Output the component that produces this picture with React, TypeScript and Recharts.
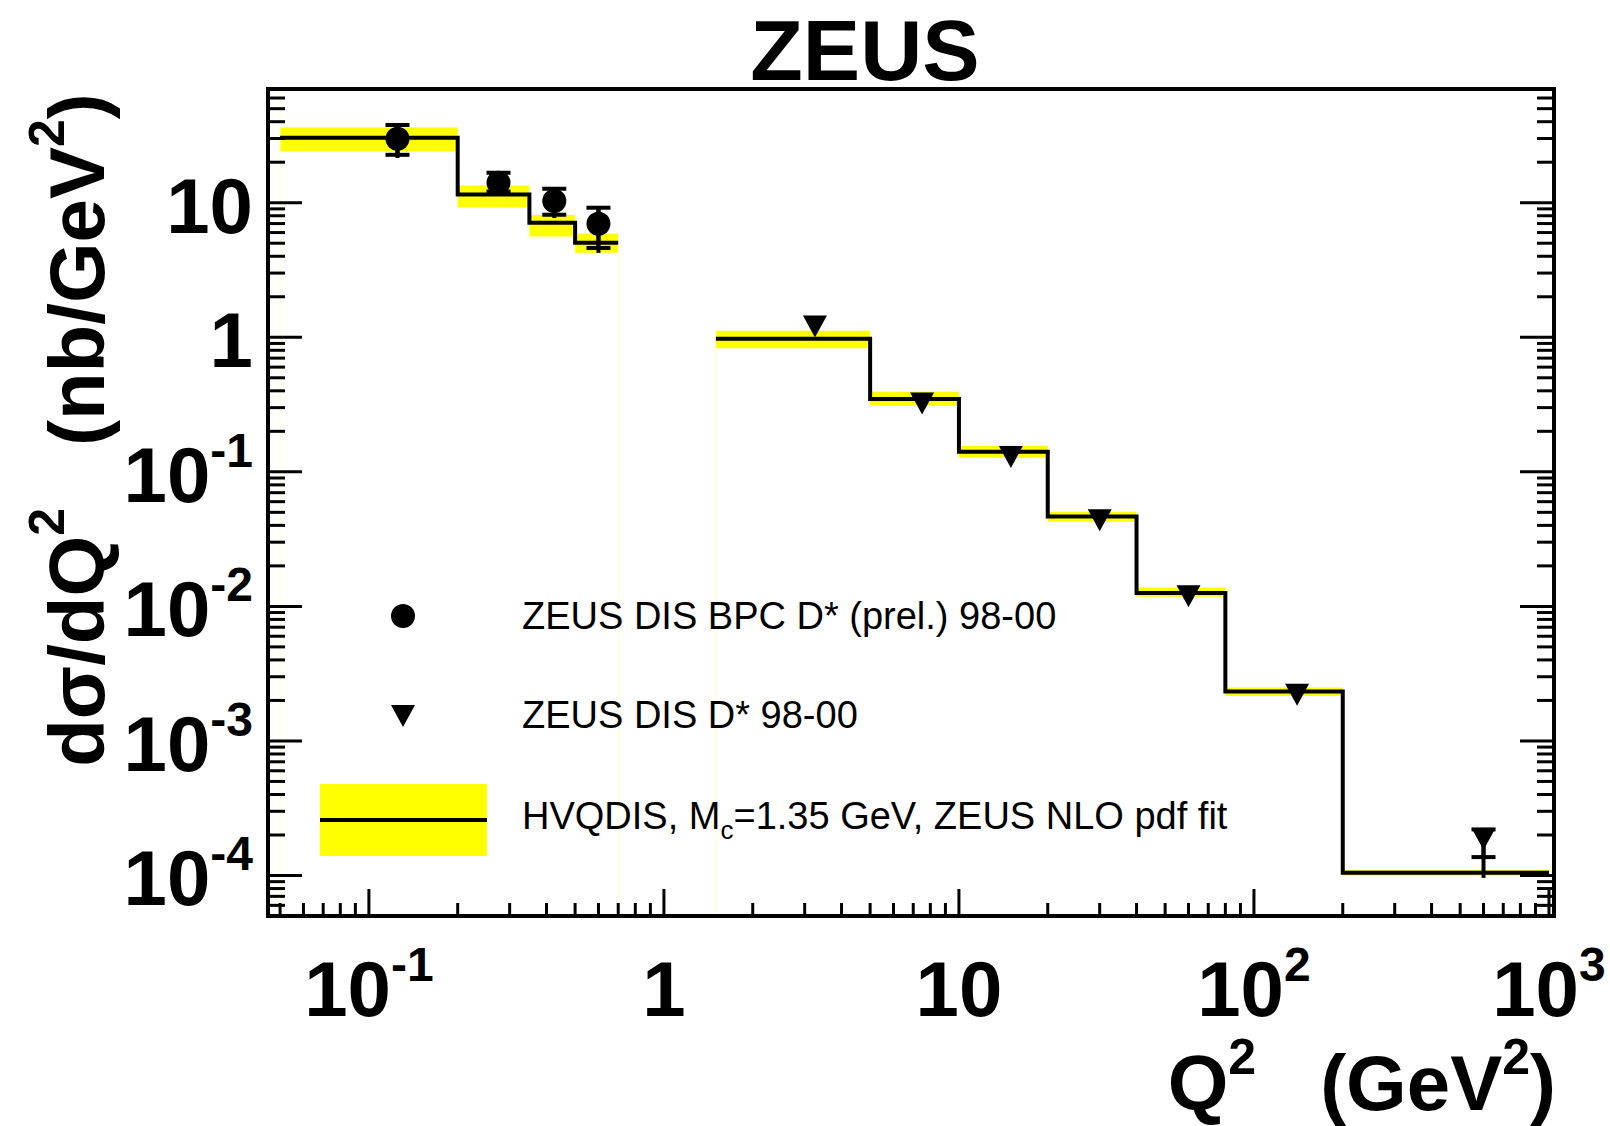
import React from 'react'
import {
  ComposedChart,
  XAxis,
  YAxis,
  Line,
  Scatter,
  ErrorBar,
  ReferenceArea,
  ReferenceLine,
  Legend,
} from 'recharts'

const W = 1610
const H = 1126
const FONT = '"Liberation Sans", Arial, Helvetica, sans-serif'

// frame range (log axes)
const X_DOMAIN = [0.0455, 1040]
const Y_DOMAIN = [5e-5, 70]

const X_MAJOR = [0.1, 1, 10, 100, 1000]
const X_LABELS = [['10', '-1'], ['1', ''], ['10', ''], ['10', '2'], ['10', '3']]
const Y_MAJOR = [1e-4, 1e-3, 1e-2, 0.1, 1, 10]
const Y_LABELS = [['10', '-4'], ['10', '-3'], ['10', '-2'], ['10', '-1'], ['1', ''], ['10', '']]
const DECADES = [1e-5, 1e-4, 1e-3, 1e-2, 0.1, 1, 10, 100, 1000]

// HVQDIS prediction, low-Q2 (BPC) bins
const BPC_EDGES = [0.05, 0.2, 0.35, 0.5, 0.7]
const BPC_THEORY = [30.4, 11.5, 7.1, 5.04]
const BPC_BAND_LO = [24.0, 9.2, 5.6, 4.25]
const BPC_BAND_HI = [36.2, 13.4, 8.1, 5.9]

// HVQDIS prediction, DIS bins
const DIS_EDGES = [1.5, 5, 10, 20, 40, 80, 200, 1000]
const DIS_THEORY = [0.975, 0.348, 0.141, 0.0465, 0.0126, 0.00233, 0.000105]
const DIS_BAND_LO = [0.83, 0.31, 0.127, 0.0425, 0.0118, 0.00216, 0.0001]
const DIS_BAND_HI = [1.12, 0.394, 0.156, 0.0505, 0.0138, 0.0025, 0.00011]

// ZEUS DIS BPC D* (prel.) 98-00
const BPC_Q2 = [0.125, 0.275, 0.425, 0.6]
const BPC_XSEC = [29.9, 14.1, 10.3, 6.98]
const BPC_STAT_LO = [22.7, 12.1, 8.14, 4.61]
const BPC_STAT_HI = [37.8, 16.7, 12.7, 9.18]
const BPC_TOT_LO = [21.5, 11.8, 7.7, 4.24]
const BPC_TOT_HI = [37.8, 16.7, 12.7, 9.18]

// ZEUS DIS D* 98-00
const DIS_Q2 = [3.25, 7.5, 15, 30, 60, 140, 600]
const DIS_XSEC = [1.2, 0.322, 0.129, 0.0436, 0.0119, 0.0022, 0.000187]
const DIS_TOT_LO = [1.1, 0.3, 0.12, 0.04, 0.011, 0.002, 0.000096]
const DIS_TOT_HI = [1.3, 0.35, 0.14, 0.047, 0.0128, 0.0024, 0.00022]
const DIS_STAT_LO = [null, null, null, null, null, null, 0.000137]
const DIS_STAT_HI = [null, null, null, null, null, null, 0.00022]

const logTicks = (domain: number[]) =>
  DECADES.flatMap((d) => [1, 2, 3, 4, 5, 6, 7, 8, 9].map((m) => m * d)).filter(
    (v) => v >= domain[0] && v <= domain[1],
  )
const X_TICKS = logTicks(X_DOMAIN)
const Y_TICKS = logTicks(Y_DOMAIN)

const majorIndex = (list: number[], v: number) =>
  list.findIndex((m) => Math.abs(v - m) <= m * 1e-6)

const stepData = (edges: number[], vals: number[]) =>
  edges.map((x, i) => ({ x, y: vals[Math.min(i, vals.length - 1)] }))

const bpcLine = stepData(BPC_EDGES, BPC_THEORY)
const disLine = stepData(DIS_EDGES, DIS_THEORY)

const bpcPoints = BPC_Q2.map((x, i) => ({
  x,
  y: BPC_XSEC[i],
  stat: [BPC_XSEC[i] - BPC_STAT_LO[i], BPC_STAT_HI[i] - BPC_XSEC[i]],
  tot: [BPC_XSEC[i] - BPC_TOT_LO[i], BPC_TOT_HI[i] - BPC_XSEC[i]],
}))
const disPoints = DIS_Q2.map((x, i) => ({
  x,
  y: DIS_XSEC[i],
  tot: [DIS_XSEC[i] - DIS_TOT_LO[i], DIS_TOT_HI[i] - DIS_XSEC[i]],
}))
const disStatPoints = DIS_Q2.flatMap((x, i) => {
  const lo = DIS_STAT_LO[i]
  const hi = DIS_STAT_HI[i]
  if (lo == null || hi == null) return []
  return [{ x, y: DIS_XSEC[i], stat: [DIS_XSEC[i] - lo, hi - DIS_XSEC[i]] }]
})

const bands = [
  ...BPC_THEORY.map((_, i) => ({
    x1: BPC_EDGES[i], x2: BPC_EDGES[i + 1], y1: BPC_BAND_LO[i], y2: BPC_BAND_HI[i],
  })),
  ...DIS_THEORY.map((_, i) => ({
    x1: DIS_EDGES[i], x2: DIS_EDGES[i + 1], y1: DIS_BAND_LO[i], y2: DIS_BAND_HI[i],
  })),
]

function PowerLabel({ x, y, anchor, parts }: { x: number; y: number; anchor: 'middle' | 'end'; parts: string[] }) {
  return (
    <text x={x} y={y} textAnchor={anchor} fontFamily={FONT} fontWeight="bold" fontSize={78} fill="#000">
      {parts[0]}
      {parts[1] && (
        <tspan dy={-35} fontSize={48}>
          {parts[1]}
        </tspan>
      )}
    </text>
  )
}

function BottomTick(props: any) {
  const { x, y, payload } = props
  const i = majorIndex(X_MAJOR, payload.value)
  return (
    <g>
      <line x1={x} y1={y} x2={x} y2={y - (i >= 0 ? 27 : 13)} stroke="#000" strokeWidth={3} />
      {i >= 0 && <PowerLabel x={x} y={y + 100} anchor="middle" parts={X_LABELS[i]} />}
    </g>
  )
}

function TopTick(props: any) {
  const { x, y, payload } = props
  const i = majorIndex(X_MAJOR, payload.value)
  return <line x1={x} y1={y} x2={x} y2={y + (i >= 0 ? 27 : 13)} stroke="#000" strokeWidth={3} />
}

function LeftTick(props: any) {
  const { x, y, payload } = props
  const i = majorIndex(Y_MAJOR, payload.value)
  return (
    <g>
      <line x1={x} y1={y} x2={x + (i >= 0 ? 34 : 17)} y2={y} stroke="#000" strokeWidth={3} />
      {i >= 0 && <PowerLabel x={x - 15} y={y + 30} anchor="end" parts={Y_LABELS[i]} />}
    </g>
  )
}

function RightTick(props: any) {
  const { x, y, payload } = props
  const i = majorIndex(Y_MAJOR, payload.value)
  return <line x1={x} y1={y} x2={x - (i >= 0 ? 34 : 17)} y2={y} stroke="#000" strokeWidth={3} />
}

const dot = (props: any) => <circle cx={props.cx} cy={props.cy} r={12} fill="#000" />
const triangle = (props: any) => {
  const { cx, cy } = props
  return <polygon points={`${cx - 12},${cy - 11} ${cx + 12},${cy - 11} ${cx},${cy + 11}`} fill="#000" />
}
const nothing = () => <g />

function LegendContent() {
  const text = { fontFamily: FONT, fontSize: 38, fill: '#000' }
  return (
    <svg width={960} height={300} style={{ overflow: 'visible' }}>
      <circle cx={103} cy={36} r={12} fill="#000" />
      <polygon points="91,125 115,125 103,147" fill="#000" />
      <rect x={20} y={204} width={167} height={72} fill="#ffff00" />
      <line x1={20} y1={240} x2={187} y2={240} stroke="#000" strokeWidth={4} />
      <text x={222} y={49} {...text}>ZEUS DIS BPC D* (prel.) 98-00</text>
      <text x={222} y={148} {...text}>ZEUS DIS D* 98-00</text>
      <text x={222} y={249} {...text}>
        HVQDIS, M
        <tspan dy={10} fontSize={26}>c</tspan>
        <tspan dy={-10}>=1.35 GeV, ZEUS NLO pdf fit</tspan>
      </text>
    </svg>
  )
}

const axisLine = { stroke: '#000', strokeWidth: 4, strokeLinecap: 'square' as const }

export default function App() {
  return (
    <div style={{ position: 'absolute', left: 0, top: 0, width: W, height: H, background: '#fff' }}>
      <ComposedChart width={W} height={H} margin={{ top: 88, right: 55, bottom: 209, left: 267 }}>
        <XAxis
          xAxisId="b"
          dataKey="x"
          type="number"
          scale="log"
          domain={X_DOMAIN}
          allowDataOverflow
          ticks={X_TICKS}
          interval={0}
          height={1}
          tickSize={0}
          tickMargin={0}
          tickLine={false}
          axisLine={axisLine}
          tick={BottomTick}
        />
        <XAxis
          xAxisId="t"
          orientation="top"
          type="number"
          scale="log"
          domain={X_DOMAIN}
          allowDataOverflow
          ticks={X_TICKS}
          interval={0}
          height={1}
          tickSize={0}
          tickMargin={0}
          tickLine={false}
          axisLine={axisLine}
          tick={TopTick}
        />
        <YAxis
          yAxisId="l"
          dataKey="y"
          type="number"
          scale="log"
          domain={Y_DOMAIN}
          allowDataOverflow
          ticks={Y_TICKS}
          interval={0}
          width={1}
          tickSize={0}
          tickMargin={0}
          tickLine={false}
          axisLine={axisLine}
          tick={LeftTick}
        />
        <YAxis
          yAxisId="r"
          orientation="right"
          type="number"
          scale="log"
          domain={Y_DOMAIN}
          allowDataOverflow
          ticks={Y_TICKS}
          interval={0}
          width={1}
          tickSize={0}
          tickMargin={0}
          tickLine={false}
          axisLine={axisLine}
          tick={RightTick}
        />

        {bands.map((b, i) => (
          <ReferenceArea
            key={i}
            xAxisId="b"
            yAxisId="l"
            x1={b.x1}
            x2={b.x2}
            y1={b.y1}
            y2={b.y2}
            fill="#ffff00"
            fillOpacity={1}
            stroke="none"
            ifOverflow="visible"
          />
        ))}
        <ReferenceLine xAxisId="b" yAxisId="l" x={BPC_EDGES[0]} stroke="#ffffc0" strokeWidth={1} />
        <ReferenceLine
          xAxisId="b"
          yAxisId="l"
          segment={[{ x: BPC_EDGES[4], y: Y_DOMAIN[0] }, { x: BPC_EDGES[4], y: BPC_BAND_LO[3] }]}
          stroke="#ffffc0"
          strokeWidth={1}
        />
        <ReferenceLine
          xAxisId="b"
          yAxisId="l"
          segment={[{ x: DIS_EDGES[0], y: Y_DOMAIN[0] }, { x: DIS_EDGES[0], y: DIS_BAND_LO[0] }]}
          stroke="#ffffc0"
          strokeWidth={1}
        />

        <Line
          xAxisId="b"
          yAxisId="l"
          data={bpcLine}
          dataKey="y"
          type="stepAfter"
          stroke="#000"
          strokeWidth={4}
          dot={false}
          activeDot={false}
          isAnimationActive={false}
        />
        <Line
          xAxisId="b"
          yAxisId="l"
          data={disLine}
          dataKey="y"
          type="stepAfter"
          stroke="#000"
          strokeWidth={4}
          dot={false}
          activeDot={false}
          isAnimationActive={false}
        />

        <Scatter xAxisId="b" yAxisId="l" data={bpcPoints} shape={dot} isAnimationActive={false}>
          <ErrorBar dataKey="tot" direction="y" width={0} stroke="#000" strokeWidth={4} isAnimationActive={false} />
          <ErrorBar dataKey="stat" direction="y" width={12} stroke="#000" strokeWidth={4} isAnimationActive={false} />
        </Scatter>
        <Scatter xAxisId="b" yAxisId="l" data={disPoints} shape={triangle} isAnimationActive={false}>
          <ErrorBar dataKey="tot" direction="y" width={0} stroke="#000" strokeWidth={4} isAnimationActive={false} />
        </Scatter>
        <Scatter xAxisId="b" yAxisId="l" data={disStatPoints} shape={nothing} isAnimationActive={false}>
          <ErrorBar dataKey="stat" direction="y" width={12} stroke="#000" strokeWidth={4} isAnimationActive={false} />
        </Scatter>

        <Legend
          layout="horizontal"
          verticalAlign="middle"
          align="center"
          content={LegendContent}
          wrapperStyle={{ left: 300, top: 580, width: 960, height: 300 }}
        />

        <text x={865} y={80} textAnchor="middle" fontFamily={FONT} fontWeight="bold" fontSize={86} fill="#000">
          ZEUS
        </text>
        <text
          transform="translate(104 430) rotate(-90)"
          textAnchor="middle"
          fontFamily={FONT}
          fontWeight="bold"
          fontSize={78}
          fill="#000"
        >
          dσ/dQ
          <tspan dy={-40} fontSize={50}>2</tspan>
          <tspan dy={40} dx={62}>(nb/GeV</tspan>
          <tspan dy={-40} fontSize={50}>2</tspan>
          <tspan dy={40}>)</tspan>
        </text>
        <text x={1556} y={1110} textAnchor="end" fontFamily={FONT} fontWeight="bold" fontSize={78} fill="#000">
          Q
          <tspan dy={-36} fontSize={50}>2</tspan>
          <tspan dy={36} dx={64}>(GeV</tspan>
          <tspan dy={-36} fontSize={50}>2</tspan>
          <tspan dy={36}>)</tspan>
        </text>
      </ComposedChart>
    </div>
  )
}
